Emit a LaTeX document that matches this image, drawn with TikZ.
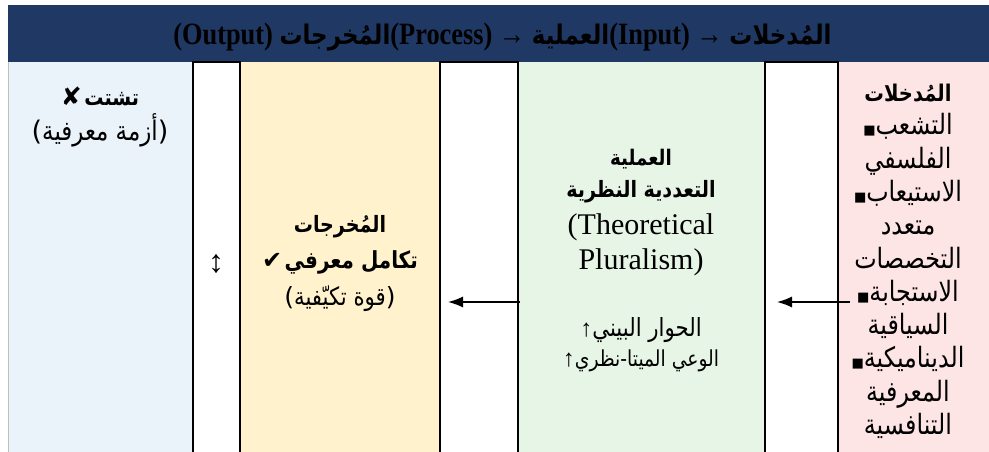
\documentclass[tikz,border=0pt]{standalone}
\usepackage{fontspec}
\setmainfont{Liberation Serif}
\newfontfamily\headfont{Liberation Serif}[FakeStretch=0.85]
\newfontfamily\arabicfont[Script=Arabic,FakeStretch=0.85]{DejaVu Sans}
\newfontfamily\symfont{DejaVu Sans}
\TeXXeTstate=1
\usetikzlibrary{arrows.meta}
\definecolor{navy}{HTML}{203864}
\definecolor{bluefill}{HTML}{EAF2FA}
\definecolor{yellowfill}{HTML}{FFF2CC}
\definecolor{greenfill}{HTML}{E7F5E6}
\definecolor{pinkfill}{HTML}{FDE5E5}
\newcommand{\artxt}[1]{{\arabicfont\beginR #1\endR}}
\newcommand{\fs}[1]{\fontsize{#1}{#1}\selectfont}
\newcommand{\sqbul}{{\symfont\fs{13}■}}
\begin{document}
\begin{tikzpicture}[x=1pt,y=-1pt,
	colbox/.style={rectangle,anchor=north west,inner sep=0pt,outer sep=0pt,minimum height=480pt},
	gapbox/.style={colbox,fill=white,draw=black,line width=2pt},
	txtline/.style={anchor=base,inner sep=0pt},
	flow/.style={-{Latex[length=15pt,width=11pt]},line width=1.4pt}]
	\useasboundingbox (0,0) rectangle (989,452);
	\clip (0,0) rectangle (989,452);
	\node[colbox,fill=navy,minimum width=981pt,minimum height=57pt] (head) at (8,5) {};
	\node[font=\bfseries\headfont\fs{31}] (headtxt) at ([xshift=4pt,yshift=-4pt]head.center) {(Output) \artxt{\fs{27}المُخرجات}(Process) → \artxt{\fs{27}العملية}(Input) → \artxt{\fs{27}المُدخلات}};
	\node[colbox,fill=bluefill,minimum width=185pt] (crisis) at (8,62) {};
	\draw[gray!50,line width=1pt] (crisis.north west) -- (crisis.south west);
	\node[colbox,fill=yellowfill,minimum width=200pt] (output) at (240,62) {};
	\node[colbox,fill=greenfill,minimum width=247pt] (process) at (518,62) {};
	\node[colbox,fill=pinkfill,minimum width=151pt] (input) at (838,62) {};
	\node[gapbox,minimum width=47pt] (gapa) at (193,62) {};
	\node[gapbox,minimum width=78pt] (gapb) at (440,62) {};
	\node[gapbox,minimum width=73pt] (gapc) at (765,62) {};
	% column texts
	\node[txtline] (crisisa) at (100,105.5) {{\symfont\bfseries\fs{25}✘}\ \artxt{\bfseries\fs{22.5}تشتت}};
	\node[txtline] (crisisb) at (100,140.5) {{\symfont\fs{27}(}\artxt{\fs{27}أزمة معرفية}{\symfont\fs{27})}};
	\node[txtline,font=\fs{32}] (twoway) at (216,272) {↕};
	\node[txtline] (outa) at (340,232) {\artxt{\bfseries\fs{22.5}المُخرجات}};
	\node[txtline] (outb) at (340,268) {{\symfont\bfseries\fs{24}✔}\ \artxt{\bfseries\fs{23.5}تكامل معرفي}};
	\node[txtline] (outc) at (340,305) {{\symfont\fs{25}(}\artxt{\fs{25}قوة تكيّفية}{\symfont\fs{25})}};
	\node[txtline] (proca) at (641,165) {\artxt{\bfseries\fs{21.5}العملية}};
	\node[txtline] (procb) at (641,197) {\artxt{\bfseries\fs{22.5}التعددية النظرية}};
	\node[txtline,font=\fs{30}] (procc) at (641,234) {(Theoretical};
	\node[txtline,font=\fs{30}] (procd) at (641,269) {Pluralism)};
	\node[txtline,font=\fs{24}] (proce) at (641,336) {↑\artxt{\fs{25}الحوار البيني}};
	\node[txtline,font=\fs{24}] (procf) at (641,366) {↑\artxt{\fs{22}الوعي الميتا-نظري}};
	\foreach \txt [count=\i] in {{\artxt{\bfseries\fs{23}المُدخلات}},{\sqbul\artxt{التشعب}},{\artxt{الفلسفي}},
		{\sqbul\artxt{الاستيعاب}},{\artxt{متعدد}},{\artxt{التخصصات}},{\sqbul\artxt{الاستجابة}},
		{\artxt{السياقية}},{\sqbul\artxt{الديناميكية}},{\artxt{المعرفية}},{\artxt{التنافسية}}}
		\node[txtline,font=\fs{28}] (in\i) at (908,{101.5+33.3*(\i-1)}) {\txt};
	% flow arrows
	\draw[flow] ([xshift=2pt]process.west) -- ([xshift=8pt]output.east);
	\draw[flow] ([xshift=12pt]input.west) -- ([xshift=12pt]process.east);
\end{tikzpicture}
\end{document}
